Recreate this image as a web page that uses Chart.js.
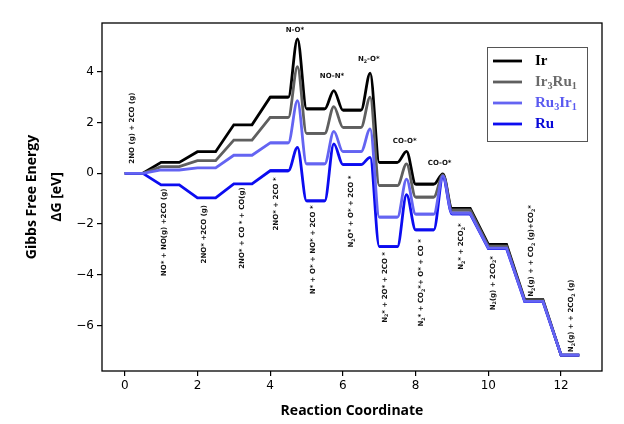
<!DOCTYPE html>
<html><head><meta charset="utf-8">
<script src="https://cdn.jsdelivr.net/npm/chart.js@4.4.1/dist/chart.umd.min.js"></script>
<style>html,body{margin:0;padding:0;background:#fff}#wrap{width:624px;height:424px;position:relative}</style>
</head><body><div id="wrap"><canvas id="c" width="624" height="424"></canvas></div>
<script>
// ---------------- data ----------------
const seriesNames = ['Ir', 'Ir₃Ru₁', 'Ru₃Ir₁', 'Ru'];
// free energy of each intermediate state (state i sits at reaction coordinate i)
const Ir     = [0, 0.43, 0.85, 1.91, 3.00, 2.54, 2.49, 0.43, -0.43, -1.38, -2.80, -4.98, -7.17];
const Ir3Ru1 = [0, 0.26, 0.50, 1.31, 2.20, 1.57, 1.81, -0.49, -0.94, -1.45, -2.87, -5.02, -7.17];
const Ru3Ir1 = [0, 0.13, 0.21, 0.71, 1.20, 0.37, 0.85, -1.73, -1.61, -1.57, -2.95, -5.05, -7.17];
const Ru     = [0, -0.46, -0.97, -0.42, 0.10, -1.09, 0.34, -2.89, -2.23, -1.60, -2.97, -5.06, -7.17];
// transition-state barrier between state i and i+1 (null = direct step)
const Ir_TS     = [null, null, null, null, 5.30, 3.26, 3.95, 0.86, -0.02, null, null, null];
const Ir3Ru1_TS = [null, null, null, null, 4.20, 2.63, 3.00, 0.37, -0.06, null, null, null];
const Ru3Ir1_TS = [null, null, null, null, 2.86, 1.65, 1.75, -0.23, -0.10, null, null, null];
const Ru_TS     = [null, null, null, null, 1.02, 1.16, 0.63, -0.84, -0.15, null, null, null];

const xTicks = [0, 2, 4, 6, 8, 10, 12];
const yTicks = [-6, -4, -2, 0, 2, 4];

const stateLabels = [
  '2NO (g) + 2CO (g)',
  'NO* + NO(g) +2CO (g)',
  '2NO* +2CO (g)',
  '2NO* + CO * + CO(g)',
  '2NO* + 2CO *',
  'N* + O* + NO* + 2CO *',
  'N₂O* + O* + 2CO *',
  'N₂* + 2O* + 2CO *',
  'N₂* + CO₂*+ O* + CO *',
  'N₂* + 2CO₂*',
  'N₂(g) + 2CO₂*',
  'N₂(g) + + CO₂ (g)+CO₂*',
  'N₂(g) + + 2CO₂ (g)'
];
const stateLabelAt = [[0.21, 1.78], [1.08, -2.33], [2.18, -2.40], [3.24, -2.16], [4.16, -1.21],
  [5.17, -3.02], [6.23, -1.51], [7.15, -4.50], [8.16, -4.32], [9.26, -2.89], [10.13, -4.33],
  [11.19, -3.06], [12.29, -5.62]];
const tsLabels = ['N-O*', 'NO-N*', 'N₂-O*', 'CO-O*', 'CO-O*'];
const tsLabelAt = [[4.68, 5.64], [5.70, 3.84], [6.71, 4.49], [7.70, 1.28], [8.66, 0.39]];

// ---------------- build ----------------
const levels = [Ir, Ir3Ru1, Ru3Ir1, Ru];
const barriers = [Ir_TS, Ir3Ru1_TS, Ru3Ir1_TS, Ru_TS];
const colors = ['#000000', '#5f5f5f', '#6464f2', '#0c0cf0'];
const textColors = ['#000000', '#6a6a6a', '#5a5af0', '#0808d8'];
const drawOrder = [4, 3, 1, 2];
const PLATEAU = 0.5;

function buildSeries(lv, ts) {
  const lin = [], curve = [];
  for (let i = 0; i < lv.length; i++) {
    const a = {x: i, y: lv[i]}, b = {x: i + PLATEAU, y: lv[i]};
    const prevTS = i > 0 && ts[i - 1] != null;
    const nextTS = i < lv.length - 1 && ts[i] != null;
    lin.push(a, b);
    if (nextTS) lin.push({x: i + 0.75, y: null});
    if (prevTS || nextTS) curve.push(a, b);
    if (nextTS) curve.push({x: i + 0.75, y: ts[i]});
    else if (prevTS) curve.push({x: i + 0.75, y: null});
  }
  return {lin, curve};
}

const datasets = [];
levels.forEach((lv, k) => {
  const s = buildSeries(lv, barriers[k]);
  const common = {label: seriesNames[k], borderColor: colors[k], backgroundColor: colors[k],
    borderWidth: 2.8, pointRadius: 0, pointHoverRadius: 0, fill: false, spanGaps: false,
    order: drawOrder[k], borderJoinStyle: 'miter', borderCapStyle: 'butt'};
  datasets.push(Object.assign({}, common, {data: s.lin, tension: 0}));
  datasets.push(Object.assign({}, common, {data: s.curve, cubicInterpolationMode: 'monotone'}));
});

let yLo = Infinity, yHi = -Infinity;
levels.concat(barriers).forEach(a => a.forEach(v => { if (v != null) { yLo = Math.min(yLo, v); yHi = Math.max(yHi, v); } }));
const yPad = 0.05 * (yHi - yLo);
const xLo = 0, xHi = levels[0].length - 1 + PLATEAU, xPad = 0.05 * (xHi - xLo);

// ---------------- drawing helpers ----------------
function richSegs(str) {
  const segs = [];
  for (const ch of str) {
    const c = ch.codePointAt(0);
    const sub = c >= 0x2080 && c <= 0x2089;
    const t = sub ? String.fromCharCode(48 + c - 0x2080) : ch;
    const last = segs[segs.length - 1];
    if (last && last.sub === sub) last.t += t; else segs.push({t, sub});
  }
  return segs;
}
function drawRich(ctx, str, x, y, size, family, weight, color, align) {
  const segs = richSegs(str);
  const f = s => `${weight} ${s}px ${family}`;
  let total = 0;
  segs.forEach(s => { ctx.font = f(s.sub ? size * 0.68 : size); s.w = ctx.measureText(s.t).width; total += s.w; });
  let cx = align === 'center' ? x - total / 2 : x;
  ctx.fillStyle = color; ctx.textBaseline = 'middle'; ctx.textAlign = 'left';
  segs.forEach(s => {
    ctx.font = f(s.sub ? size * 0.68 : size);
    ctx.fillText(s.t, cx, y + (s.sub ? size * 0.3 : 0));
    cx += s.w;
  });
}

const annotatePlugin = {
  id: 'annotate',
  afterDatasetsDraw(chart) {
    const {ctx, scales: {x, y}} = chart;
    ctx.save();
    stateLabels.forEach((t, i) => {
      const px = x.getPixelForValue(stateLabelAt[i][0]);
      const py = y.getPixelForValue(stateLabelAt[i][1]);
      ctx.save(); ctx.translate(px, py); ctx.rotate(-Math.PI / 2);
      drawRich(ctx, t, 0, 0, 7, '"DejaVu Sans"', 'bold', '#111', 'center');
      ctx.restore();
    });
    tsLabels.forEach((t, i) => {
      const px = x.getPixelForValue(tsLabelAt[i][0]);
      const py = y.getPixelForValue(tsLabelAt[i][1]);
      drawRich(ctx, t, px, py, 7, '"DejaVu Sans"', 'bold', '#111', 'center');
    });
    ctx.restore();
  },
  afterDraw(chart) {
    const {ctx, chartArea: ca} = chart;
    ctx.save();
    // frame
    ctx.strokeStyle = '#000'; ctx.lineWidth = 1.3;
    ctx.strokeRect(ca.left, ca.top, ca.right - ca.left, ca.bottom - ca.top);
    // legend
    const lx = ca.right - 115, ly = ca.top + 24, lw = 100, lh = 94;
    ctx.fillStyle = '#fff'; ctx.fillRect(lx, ly, lw, lh);
    ctx.strokeStyle = '#555'; ctx.lineWidth = 1;
    ctx.strokeRect(lx + 0.5, ly + 0.5, lw, lh);
    seriesNames.forEach((n, k) => {
      const ry = ly + 14 + k * 21;
      ctx.strokeStyle = colors[k]; ctx.lineWidth = 2.8;
      ctx.beginPath(); ctx.moveTo(lx + 6, ry); ctx.lineTo(lx + 35, ry); ctx.stroke();
      drawRich(ctx, n, lx + 48, ry, 15, '"Liberation Serif"', 'bold', textColors[k], 'left');
    });
    ctx.restore();
  }
};

const tickFont = {family: 'DejaVu Sans', size: 12};
new Chart(document.getElementById('c'), {
  type: 'line',
  data: {datasets},
  options: {
    responsive: false, animation: false, devicePixelRatio: 1,
    parsing: true, normalized: true,
    layout: {padding: {left: 0, right: 22, top: 23, bottom: 0}},
    plugins: {legend: {display: false}, tooltip: {enabled: false}},
    scales: {
      x: {
        type: 'linear', min: xLo - xPad, max: xHi + xPad,
        afterBuildTicks: s => { s.ticks = xTicks.map(v => ({value: v})); },
        afterFit: s => { s.height = 53; },
        border: {display: false},
        grid: {drawOnChartArea: false, drawTicks: true, tickLength: 5, color: '#000', lineWidth: 1.2},
        ticks: {color: '#000', font: tickFont, padding: 3, maxRotation: 0, autoSkip: false,
          callback: v => String(v).replace('-', '\u2212')},
        title: {display: true, text: 'Reaction Coordinate', color: '#000',
          font: {family: 'Open Sans', weight: 'bold', size: 14}, padding: {top: 0, bottom: 5}}
      },
      y: {
        type: 'linear', min: yLo - yPad, max: yHi + yPad,
        afterBuildTicks: s => { s.ticks = yTicks.map(v => ({value: v})); },
        afterFit: s => { s.width = 102; },
        border: {display: false},
        grid: {drawOnChartArea: false, drawTicks: true, tickLength: 5, color: '#000', lineWidth: 1.2},
        ticks: {color: '#000', font: tickFont, padding: 3, autoSkip: false,
          callback: v => String(v).replace('-', '\u2212')},
        title: {display: true, text: ['Gibbs Free Energy', 'ΔG [eV]'], color: '#000',
          font: {family: 'Open Sans', weight: 'bold', size: 14, lineHeight: '25px'}, padding: {top: 20, bottom: 0}}
      }
    }
  },
  plugins: [annotatePlugin]
});
</script></body></html>
